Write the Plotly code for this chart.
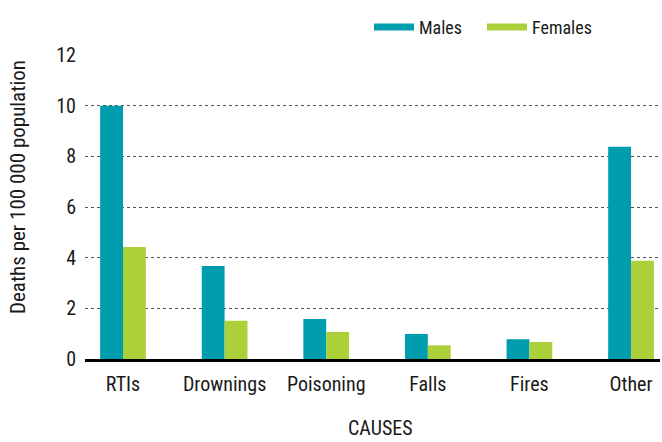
import plotly.graph_objects as go

categories = ["RTIs", "Drownings", "Poisoning", "Falls", "Fires", "Other"]
males = [10.0, 3.67, 1.58, 0.99, 0.78, 8.38]
females = [4.42, 1.51, 1.07, 0.54, 0.67, 3.88]
y_ticks = [0, 2, 4, 6, 8, 10, 12]

male_color = "#009daf"
female_color = "#acd03a"
font_family = "Liberation Sans Narrow, Roboto Condensed, Arial Narrow, sans-serif"

fig = go.Figure()
fig.add_trace(go.Bar(x=categories, y=males, name="Males", marker_color=male_color,
                     marker_line_width=0, showlegend=False))
fig.add_trace(go.Bar(x=categories, y=females, name="Females", marker_color=female_color,
                     marker_line_width=0, showlegend=False))
# legend entries drawn as thick lines
fig.add_trace(go.Scatter(x=[None], y=[None], mode="lines", name="Males",
                         line=dict(color=male_color, width=7)))
fig.add_trace(go.Scatter(x=[None], y=[None], mode="lines", name="Females",
                         line=dict(color=female_color, width=7)))

fig.update_layout(
    width=662, height=442,
    margin=dict(l=85, r=2, t=55, b=83, autoexpand=False),
    paper_bgcolor="white", plot_bgcolor="white",
    font=dict(family=font_family, size=20, color="#1a1a1a"),
    barmode="group", bargap=0.55, bargroupgap=0,
    legend=dict(orientation="h", x=(369 - 85) / 575, xanchor="left", y=1.03, yanchor="bottom",
                font=dict(size=18), itemwidth=40, entrywidth=58, traceorder="normal"),
    xaxis=dict(type="category", range=[-0.374, 5.285], showgrid=False,
               showline=True, linecolor="black", linewidth=3, ticks="",
               ticklabelstandoff=5, tickfont=dict(size=20)),
    yaxis=dict(range=[0, 12], tickvals=y_ticks, showgrid=True, gridcolor="#555555",
               griddash="dot", gridwidth=1, zeroline=False, showline=False, ticks="",
               ticklabelstandoff=8, tickfont=dict(size=20)),
    annotations=[
        dict(text="Deaths per 100 000 population", textangle=-90, showarrow=False,
             xref="paper", yref="paper", x=(18 - 85) / 575, y=(359 - 187) / 304,
             xanchor="center", yanchor="middle", font=dict(size=21)),
        dict(text="CAUSES", showarrow=False, xref="paper", yref="paper",
             x=(380 - 85) / 575, y=(359 - 441) / 304, borderpad=0,
             xanchor="center", yanchor="bottom", font=dict(size=20)),
    ],
)

fig.write_html("out.html", config={"displayModeBar": False},
               post_script="document.body.style.margin='0';document.body.style.overflow='hidden';")
